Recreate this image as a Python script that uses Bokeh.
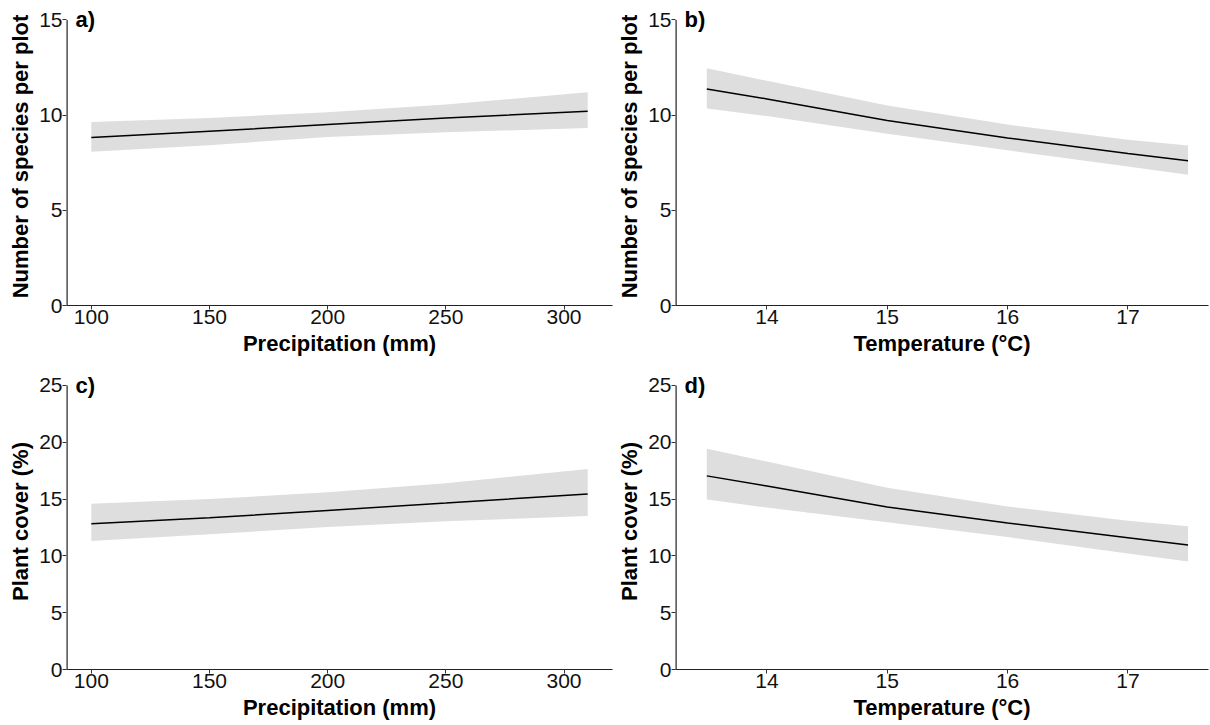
from bokeh.plotting import figure
from bokeh.layouts import column, row
from bokeh.models import Label, FixedTicker, Range1d
from bokeh.embed import file_html
from bokeh.resources import INLINE

# ---- data ----
precip = [100, 150, 200, 250, 310]
temp = [13.5, 14, 15, 16, 17, 17.5]

# a) species richness vs precipitation
rich_p_fit = [8.82, 9.15, 9.50, 9.85, 10.20]
rich_p_lo = [8.07, 8.42, 8.85, 9.10, 9.32]
rich_p_hi = [9.64, 9.85, 10.15, 10.55, 11.20]

# b) species richness vs temperature
rich_t_fit = [11.37, 10.85, 9.72, 8.80, 7.98, 7.60]
rich_t_lo = [10.35, 9.95, 9.02, 8.15, 7.30, 6.87]
rich_t_hi = [12.46, 11.80, 10.50, 9.50, 8.70, 8.40]

# c) plant cover vs precipitation
cov_p_fit = [12.82, 13.35, 14.00, 14.65, 15.45]
cov_p_lo = [11.31, 11.90, 12.55, 13.05, 13.50]
cov_p_hi = [14.58, 15.00, 15.60, 16.40, 17.65]

# d) plant cover vs temperature
cov_t_fit = [17.04, 16.15, 14.30, 12.90, 11.60, 10.95]
cov_t_lo = [14.96, 14.25, 12.95, 11.65, 10.20, 9.50]
cov_t_hi = [19.42, 18.30, 16.00, 14.35, 13.10, 12.60]

precip_ticks = [100, 150, 200, 250, 300]
temp_ticks = [14, 15, 16, 17]
rich_ticks = [0, 5, 10, 15]
cov_ticks = [0, 5, 10, 15, 20, 25]

FONT = "Liberation Sans"


def panel(x, fit, lo, hi, xr, ymax, yextra, xticks, yticks, xlab, ylab, tag,
          width, height, bl, br, bt, bb):
    p = figure(width=width, height=height,
               x_range=Range1d(*xr), y_range=Range1d(0, ymax + yextra),
               output_backend="svg", toolbar_location=None,
               min_border_left=bl, min_border_right=br,
               min_border_top=bt, min_border_bottom=bb,
               background_fill_color="white", border_fill_color="white")
    p.outline_line_color = None
    p.xgrid.visible = False
    p.ygrid.visible = False

    p.varea(x=x, y1=lo, y2=hi, fill_color="#DEDEDE", fill_alpha=1.0)
    p.line(x=x, y=fit, line_color="black", line_width=1.5)

    # y axis line only from 0 to the top tick (like the reference)
    p.segment(x0=[xr[0]], y0=[0], x1=[xr[0]], y1=[ymax],
              line_color="#222222", line_width=2.4)

    for ax, ticks, lab, std in ((p.xaxis[0], xticks, xlab, 4),
                                (p.yaxis[0], yticks, ylab, 3)):
        ax.ticker = FixedTicker(ticks=ticks)
        ax.minor_tick_line_color = None
        ax.major_tick_in = 0
        ax.major_tick_out = 4
        ax.major_tick_line_color = "#333333"
        ax.axis_line_color = "#222222"
        ax.axis_line_width = 1.2
        ax.major_label_text_font = FONT
        ax.major_label_text_font_size = "21px"
        ax.major_label_text_color = "#111111"
        ax.major_label_standoff = 0
        ax.axis_label = lab
        ax.axis_label_text_font = FONT
        ax.axis_label_text_font_style = "bold"
        ax.axis_label_text_font_size = "22px"
        ax.axis_label_text_color = "black"
        ax.axis_label_standoff = std
    p.yaxis[0].axis_line_color = None

    p.add_layout(Label(x=xr[0], y=ymax, x_offset=9, text=tag,
                       text_baseline="middle", text_align="left",
                       text_font=FONT, text_font_style="bold",
                       text_font_size="22px", text_color="black"))
    return p


PR = (89.5, 320.5)
TR = (13.24, 17.67)

pa = panel(precip, rich_p_fit, rich_p_lo, rich_p_hi, PR, 15, 0.65,
           precip_ticks, rich_ticks, "Precipitation (mm)",
           "Number of species per plot", "a)", 614, 372, 66, 2, 7, 67)
pb = panel(temp, rich_t_fit, rich_t_lo, rich_t_hi, TR, 15, 0.65,
           temp_ticks, rich_ticks, "Temperature (°C)",
           "Number of species per plot", "b)", 595, 372, 58, 1, 7, 67)
pc = panel(precip, cov_p_fit, cov_p_lo, cov_p_hi, PR, 25, 1.05,
           precip_ticks, cov_ticks, "Precipitation (mm)",
           "Plant cover (%)", "c)", 614, 352, 66, 2, 1, 55)
pd = panel(temp, cov_t_fit, cov_t_lo, cov_t_hi, TR, 25, 1.05,
           temp_ticks, cov_ticks, "Temperature (°C)",
           "Plant cover (%)", "d)", 595, 352, 58, 1, 1, 55)

layout = column(row(pa, pb), row(pc, pd))
open("out.html", "w").write(file_html(layout, INLINE))
